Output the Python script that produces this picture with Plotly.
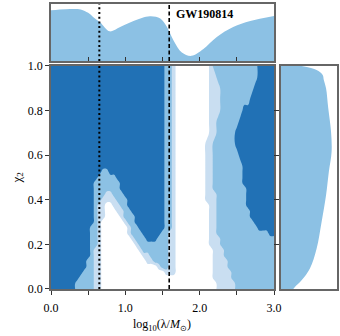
import numpy as np
import plotly.graph_objects as go

# posterior levels on a (log10 lambda, chi2) grid: 0 = outside, 1 = light, 2 = medium, 3 = dark
# one string per chi2 row (bottom to top), one digit per lambda column 0.00 .. 3.00 (step 0.05)
chi_rows = [0.0, 0.025, 0.05, 0.075, 0.1, 0.125, 0.15, 0.175, 0.2, 0.225, 0.25,
            0.275, 0.3, 0.325, 0.35, 0.375, 0.4, 0.425, 0.45, 0.475, 0.5, 0.525,
            0.55, 0.6, 0.65, 0.7, 0.75, 0.8, 0.85, 0.9, 0.95, 1.0]
level_rows = [
    "3333333 22222 11 0000000000 0000000000 0000000000 0 11111 2222222222 2",
    "3333333 22222 11 0000000000 0000000000 0000000000 0 11111 2222222222 2",
    "33333333 2222 11 0000000000 0000000000 0000000000 11111 2222222222 22",
    "333333333 222 11 0000000000 0000000 111 0000000000 11111 2222222222 22",
    "3333333333 22 11 0000000000 00000 1 22 11 0000000000 1111 2222222222 222",
    "3333333333 22 11 0000000000 00 11 2222 11 0000000000 1111 2222222222 222",
    "3333333333 3 2 11 0000000000 0 11 22222 11 0000000000 111 2222222222 2222",
    "3333333333 3 2 11 0000000000 1 2222222 11 0000000000 111 2222222222 2222",
    "3333333333 3 22 1 000000000 1 22222222 11 000000000 111 2222222222 22222",
    "3333333333 3 22 1 00000000 1 222 333 222 11 000000000 111 2222222222 22222",
    "3333333333 3 22 1 0000000 1 222 33333 22 11 000000000 11 2222222222 2222 33",
    "3333333333 3 22 1 0000000 1 22 3333333 22 1 000000000 11 2222222222 2 33333",
    "3333333333 33 2 1 000000 1 22 33333333 22 1 000000000 11 2222222222 333333",
    "3333333333 33 2 11 0000 1 222 33333333 22 1 000000000 11 222222222 3333333",
    "3333333333 33 2 11 000 11 22 333333333 22 1 000000000 11 222222222 3333333",
    "3333333333 33 2 11 00 11 22 3333333333 22 1 000000000 11 22222222 33333333",
    "3333333333 33 22 1111 222 3333333333 22 1 00000000 111 22222222 33333333",
    "3333333333 33 222 11 222 3333333333 3 22 1 00000000 111 22222222 33333333",
    "3333333333 33 2222222 3333333333 33 22 1 00000000 11 222222222 33333333",
    "3333333333 33 2222222 3333333333 33 22 1 00000000 11 22222222 333333333",
    "3333333333 333 22222 3333333333 333 22 1 00000000 11 22222222 333333333",
    "3333333333 3333 22 3333333333 33333 22 1 00000000 11 22222222 333333333",
    "3333333333 3333333333 3333333333 3 22 1 00000000 11 22222222 333333333",
    "3333333333 3333333333 3333333333 3 22 1 00000000 11 2222222 3333333333",
    "3333333333 3333333333 3333333333 3 22 1 00000000 11 222222 3333333333 3",
    "3333333333 3333333333 3333333333 3 22 1 000000000 11 22222 3333333333 3",
    "3333333333 3333333333 3333333333 3 22 1 000000000 11 222222 3333333333",
    "3333333333 3333333333 3333333333 3 22 1 000000000 111 222222 333333333",
    "3333333333 3333333333 3333333333 3 22 1 000000000 111 22222222 3333333",
    "3333333333 3333333333 3333333333 3 22 1 000000000 111 222222222 333333",
    "3333333333 3333333333 3333333333 3 22 1 000000000 11 22222222222 33333",
    "3333333333 3333333333 3333333333 3 22 1 000000000 1 222222222222 33333",
]

# marginal on log10(lambda) (top panel)
top_lam = [0.0, 0.2, 0.4, 0.5, 0.57, 0.66, 0.79, 0.93, 1.11, 1.33, 1.47, 1.56,
           1.65, 1.76, 1.89, 2.05, 2.23, 2.45, 2.68, 3.0]
top_dens = [0.89, 0.91, 0.905, 0.845, 0.77, 0.68, 0.52, 0.595, 0.70, 0.785, 0.745, 0.595,
            0.357, 0.15, 0.09, 0.21, 0.42, 0.595, 0.70, 0.79]

# marginal on chi2 (right panel)
right_chi = [0.0, 0.009, 0.039, 0.092, 0.18, 0.30, 0.42, 0.525, 0.615, 0.705,
             0.81, 0.90, 0.937, 0.96, 0.982, 1.0]
right_dens = [0.22, 0.25, 0.37, 0.52, 0.64, 0.73, 0.81, 0.86, 0.91, 0.90,
              0.85, 0.81, 0.77, 0.75, 0.64, 0.37]

lam_dotted = 0.65
lam_dashed = 1.59
event = "GW190814"

dark = "#2171b5"
med = "#8cc1e4"
light = "#c9def1"
grey = "#666666"
font_family = "Liberation Serif"

z = [[int(c) for c in row.replace(" ", "")] for row in level_rows]
for row in z:
    assert len(row) == 61, len(row)
assert len(z) == len(chi_rows)
lam_cols = np.linspace(0, 3, 61)

fig = go.Figure()

fig.add_trace(go.Contour(
    x=lam_cols, y=chi_rows, z=z,
    contours=dict(start=0.5, end=2.5, size=1, coloring="fill"),
    line=dict(width=0, smoothing=1.3),
    colorscale=[[0, "#ffffff"], [0.17, "#ffffff"], [0.17, light], [0.5, light],
                [0.5, med], [0.83, med], [0.83, dark], [1, dark]],
    showscale=False, hoverinfo="skip",
    xaxis="x", yaxis="y"))

fig.add_trace(go.Scatter(
    x=top_lam, y=top_dens, mode="lines",
    line=dict(width=0, shape="spline", smoothing=1.0),
    fill="tozeroy", fillcolor=med, hoverinfo="skip",
    xaxis="x2", yaxis="y2"))

fig.add_trace(go.Scatter(
    x=right_dens, y=right_chi, mode="lines",
    line=dict(width=0, shape="spline", smoothing=1.0),
    fill="tozerox", fillcolor=med, hoverinfo="skip",
    xaxis="x3", yaxis="y3"))

main_x = [0.15, 0.806]
main_y = [0.14, 0.8036]

axis_common = dict(showgrid=False, zeroline=False, showline=True, mirror=True,
                   linecolor=grey, linewidth=1.5, tickcolor="#333333", tickwidth=1,
                   automargin=False)
half_ticks = dict(dtick=0.5, tick0=0, ticklen=4, tickwidth=1, tickcolor="#333333", showgrid=False)

fig.update_layout(
    width=340, height=336,
    margin=dict(l=0, r=0, t=0, b=0, pad=0, autoexpand=False),
    paper_bgcolor="white", plot_bgcolor="white",
    showlegend=False,
    font=dict(family=font_family, size=12, color="black"),
    xaxis=dict(domain=main_x, range=[0, 3], anchor="y",
               tickvals=[0, 1, 2, 3], ticktext=["0.0", "1.0", "2.0", "3.0"],
               ticks="outside", ticklen=4, ticklabelstandoff=3,
               minor=dict(ticks="outside", **half_ticks), **axis_common),
    yaxis=dict(domain=main_y, range=[0, 1], anchor="x",
               tickvals=[0, 0.2, 0.4, 0.6, 0.8, 1.0],
               ticktext=["0.0", "0.2", "0.4", "0.6", "0.8", "1.0"],
               ticks="outside", ticklen=4, **axis_common),
    xaxis2=dict(domain=main_x, range=[0, 3], anchor="y2",
                tickvals=[0.5, 1, 1.5, 2, 2.5], ticks="inside", ticklen=4,
                showticklabels=False, **axis_common),
    yaxis2=dict(domain=[0.8185, 0.988], range=[0, 1], anchor="x2",
                showticklabels=False, ticks="", **axis_common),
    xaxis3=dict(domain=[0.8265, 0.99], range=[0, 1], anchor="y3",
                showticklabels=False, ticks="", **axis_common),
    yaxis3=dict(domain=main_y, range=[0, 1], anchor="x3",
                tickvals=[0.2, 0.4, 0.6, 0.8], ticks="outside", ticklen=5,
                showticklabels=False, **axis_common),
)

for xr, yr in [("x", "y domain"), ("x2", "y2 domain")]:
    fig.add_shape(type="line", xref=xr, yref=yr, x0=lam_dotted, x1=lam_dotted, y0=0, y1=1,
                  line=dict(color="black", width=2, dash="2px,2.7px"))
    fig.add_shape(type="line", xref=xr, yref=yr, x0=lam_dashed, x1=lam_dashed, y0=0, y1=1,
                  line=dict(color="black", width=1.6, dash="4px,2.5px"))

fig.add_annotation(text="<b>" + event + "</b>", xref="x2", yref="y2 domain",
                   x=1.66, y=0.82, xanchor="left", yanchor="middle", showarrow=False,
                   font=dict(family=font_family, size=12, color="black"))
fig.add_annotation(text="log<sub>10</sub>(λ/<i>M</i><sub>⊙</sub>)", xref="paper", yref="paper",
                   x=0.475, y=0.033, xanchor="center", yanchor="middle", showarrow=False,
                   font=dict(family=font_family, size=12, color="black"))
fig.add_annotation(text="χ<sub>2</sub>", xref="paper", yref="paper",
                   x=0.05, y=0.472, xanchor="center", yanchor="middle", showarrow=False,
                   textangle=-90, font=dict(family=font_family, size=13, color="black"))

# page body has a default 8px margin; drop it so the figure sits at the window corner
fig.write_html("out.html", config={"displayModeBar": False},
               post_script="document.body.style.margin='0px';")
